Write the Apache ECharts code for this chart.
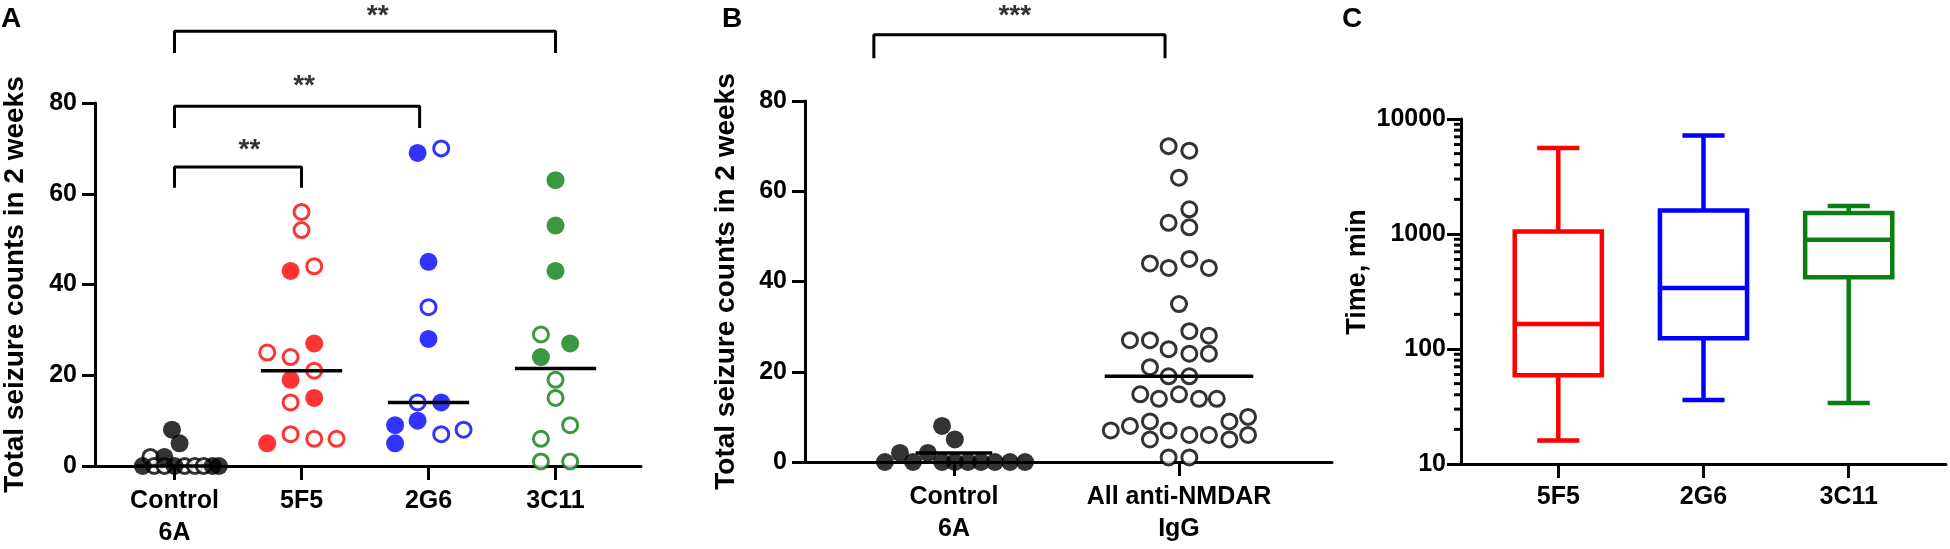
<!DOCTYPE html>
<html><head><meta charset="utf-8">
<script src="https://cdn.jsdelivr.net/npm/echarts@6/dist/echarts.min.js"></script>
<style>html,body{margin:0;padding:0;background:#fff}#c{width:1950px;height:549px}</style>
</head><body><div id="c"></div>
<script>
// ================= DATA =================
// Panel A categories and y ticks
const catsA = ['Control\n6A', '5F5', '2G6', '3C11'];
const yTicksA = [0, 20, 40, 60, 80];
// points: [horizontal jitter within the group, value]
const ctrlA_filled = [[-0.02, 8], [0.04, 5], [-0.08, 2], [-0.25, 0], [0.0, 0], [0.3, 0], [0.35, 0]];
const ctrlA_open = [[-0.19, 2], [-0.16, 0], [-0.08, 0], [0.08, 0], [0.16, 0], [0.23, 0]];
const f5f5_filled = [[-0.086, 43], [0.1, 27], [-0.086, 19], [0.1, 15], [-0.27, 5]];
const f5f5_open = [[0, 56], [0, 52], [0.1, 44], [-0.27, 25], [-0.086, 24], [0.1, 21], [-0.086, 14], [-0.086, 7], [0.1, 6], [0.276, 6]];
const g2g6_filled = [[-0.086, 69], [0, 45], [0, 28], [0.1, 14], [-0.263, 9], [-0.086, 10], [-0.263, 5]];
const g2g6_open = [[0.1, 70], [0, 35], [-0.086, 14], [0.276, 8], [0.1, 7]];
const c3c11_filled = [[0, 63], [0, 53], [0, 43], [0.115, 27], [-0.115, 24]];
const c3c11_open = [[-0.115, 29], [0, 19], [0, 15], [0.115, 9], [-0.115, 6], [-0.115, 1], [0.115, 1]];
const mediansA = [0, 21, 14, 21.5];
// significance brackets: [fromGroup, toGroup, top value, drop value, label, label x, label value]
const bracketsA = [
  [0, 3, 95.8, 91.0, '**', 1.6, 99.2],
  [0, 1.93, 79.3, 74.5, '**', 1.02, 83.6],
  [0, 1.0, 65.9, 61.3, '**', 0.59, 69.6]
];

// Panel B
const catsB = ['Control\n6A', 'All anti-NMDAR\nIgG'];
const ctrlB = [[-0.053, 8], [0.004, 5], [-0.24, 2], [-0.116, 2], [-0.307, 0], [-0.182, 0], [-0.053, 0], [0.004, 0], [0.062, 0], [0.12, 0], [0.182, 0], [0.249, 0], [0.316, 0]];
const antiB = [[-0.046, 70], [0.046, 69], [0, 63], [0.046, 56], [-0.046, 53], [0.046, 52], [-0.129, 44], [-0.046, 43], [0.046, 45], [0.133, 43],
  [0, 35], [0.046, 29], [-0.218, 27], [-0.129, 27], [0.133, 28], [-0.046, 25], [0.046, 24], [0.133, 24], [-0.129, 21], [-0.046, 19],
  [0.046, 19], [-0.172, 15], [-0.089, 14], [0, 15], [0.089, 14], [0.168, 14], [0.307, 10], [0.224, 9], [-0.129, 9], [-0.218, 8],
  [-0.303, 7], [-0.046, 7], [-0.129, 5], [0.046, 6], [0.133, 6], [0.224, 5], [0.307, 6], [-0.046, 1], [0.046, 1]];
const mediansB = [2, 19];
const bracketsB = [[-0.356, 0.938, 94.7, 89.5, '***', 0.27, 98.7]];

// Panel C (box plots: min, Q1, median, Q3, max; log axis)
const catsC = ['5F5', '2G6', '3C11'];
const boxC = [
  [16, 59, 165, 1050, 5600],
  [36, 124, 340, 1600, 7200],
  [34, 420, 890, 1520, 1750]
];
const minorTicksC = [20, 30, 40, 50, 60, 70, 80, 90, 200, 300, 400, 500, 600, 700, 800, 900, 2000, 3000, 4000, 5000, 6000, 7000, 8000, 9000];

// ================= STYLE / RENDER =================
const FONT = "'Liberation Sans', Arial, Helvetica, sans-serif";
const RED = '#ff0000', BLUE = '#0000ff', GREEN = '#0b7d12', BLACK = '#000000';
const colorsC = [RED, BLUE, GREEN];
const AX = {color: '#000', width: 3};
const labelStyle = {color: '#000', fontSize: 25, fontWeight: 'bold', fontFamily: FONT};

function pts(g, arr) { return arr.map(p => [g + p[0], p[1]]); }

function dots(xi, data, color, open) {
  return {
    type: 'scatter', xAxisIndex: xi, yAxisIndex: xi, data: data, clip: false, z: 3,
    symbol: 'circle', symbolSize: open ? 15 : 18,
    itemStyle: open ? {color: '#fff', borderColor: color, borderWidth: 3} : {color: color},
    emphasis: {disabled: true}, silent: true
  };
}

function medians(xi, vals, halfWidths) {
  return {
    type: 'custom', xAxisIndex: xi, yAxisIndex: xi, clip: false, z: 4, silent: true,
    data: vals.map((v, i) => [i, v]),
    renderItem: (params, api) => {
      const g = api.value(0), v = api.value(1), h = halfWidths[params.dataIndex];
      const a = api.coord([g - h, v]), b = api.coord([g + h, v]);
      return {type: 'line', shape: {x1: a[0], y1: a[1], x2: b[0], y2: b[1]}, style: {stroke: '#000', lineWidth: 3.5}};
    }
  };
}

function brackets(xi, list) {
  const out = [];
  list.forEach(b => {
    out.push({
      type: 'line', xAxisIndex: xi, yAxisIndex: xi, clip: false, symbol: 'none', z: 5, silent: true,
      data: [[b[0], b[3]], [b[0], b[2]], [b[1], b[2]], [b[1], b[3]]],
      lineStyle: {color: '#000', width: 3}
    });
  });
  out.push({
    type: 'scatter', xAxisIndex: xi, yAxisIndex: xi, clip: false, z: 6, silent: true,
    symbolSize: 1, itemStyle: {color: 'transparent'},
    data: list.map(b => ({value: [b[5], b[6]], label: {formatter: b[4]}})),
    label: {show: true, position: 'inside', color: '#000', fontSize: 28, fontWeight: 'bold', fontFamily: FONT}
  });
  return out;
}

function xAxisDef(grid, min, max, cats) {
  const vals = cats.map((c, i) => i);
  return {
    type: 'value', gridIndex: grid, min: min, max: max,
    axisLine: {show: true, onZero: false, lineStyle: AX},
    axisTick: {show: true, length: 14, lineStyle: AX, customValues: vals},
    axisLabel: Object.assign({}, labelStyle, {margin: 19, lineHeight: 32, customValues: vals,
      formatter: v => cats[Math.round(v)]}),
    splitLine: {show: false}
  };
}

function yAxisDef(grid, name, gap) {
  return {
    type: 'value', gridIndex: grid, min: 0, max: 80, interval: 20,
    axisLine: {show: true, onZero: false, lineStyle: AX},
    axisTick: {show: true, length: 13, lineStyle: AX},
    axisLabel: Object.assign({}, labelStyle, {margin: 18}),
    splitLine: {show: false},
    name: name, nameLocation: 'middle', nameGap: gap,
    nameTextStyle: {color: '#000', fontSize: 28, fontWeight: 'bold', fontFamily: FONT}
  };
}

const chart = echarts.init(document.getElementById('c'));
const series = [];
// Panel A
series.push(dots(0, pts(0, ctrlA_open), BLACK, true), dots(0, pts(0, ctrlA_filled), BLACK, false));
series.push(dots(0, pts(1, f5f5_open), RED, true), dots(0, pts(1, f5f5_filled), RED, false));
series.push(dots(0, pts(2, g2g6_open), BLUE, true), dots(0, pts(2, g2g6_filled), BLUE, false));
series.push(dots(0, pts(3, c3c11_open), GREEN, true), dots(0, pts(3, c3c11_filled), GREEN, false));
series.push(medians(0, mediansA, [0.3, 0.32, 0.32, 0.32]));
series.push(...brackets(0, bracketsA));
// Panel B
series.push(dots(1, pts(0, ctrlB), BLACK, false), dots(1, pts(1, antiB), BLACK, true));
series.push(medians(1, mediansB, [0.17, 0.33]));
series.push(...brackets(1, bracketsB));
// Panel C box plots
series.push({
  type: 'custom', xAxisIndex: 2, yAxisIndex: 2, clip: false, z: 3, silent: true,
  data: boxC.map((r, i) => [i].concat(r)),
  encode: {x: 0, y: [1, 2, 3, 4, 5]},
  renderItem: (params, api) => {
    const g = api.value(0), mn = api.value(1), q1 = api.value(2), md = api.value(3), q3 = api.value(4), mx = api.value(5);
    const color = colorsC[params.dataIndex];
    const bw = 0.3, cw = 0.145;
    const st = {stroke: color, lineWidth: 4.5, fill: 'transparent'};
    const L = (x1, y1, x2, y2) => {
      const a = api.coord([x1, y1]), b = api.coord([x2, y2]);
      return {type: 'line', shape: {x1: a[0], y1: a[1], x2: b[0], y2: b[1]}, style: st};
    };
    const tl = api.coord([g - bw, q3]), br = api.coord([g + bw, q1]);
    return {type: 'group', children: [
      L(g, q3, g, mx), L(g - cw, mx, g + cw, mx),
      L(g, q1, g, mn), L(g - cw, mn, g + cw, mn),
      {type: 'rect', shape: {x: tl[0], y: tl[1], width: br[0] - tl[0], height: br[1] - tl[1]}, style: st},
      L(g - bw, md, g + bw, md)
    ]};
  }
});
// Panel C minor log ticks
series.push({
  type: 'custom', xAxisIndex: 2, yAxisIndex: 2, clip: false, z: 2, silent: true,
  data: minorTicksC.map(v => [-0.67, v]),
  renderItem: (params, api) => {
    const p = api.coord([api.value(0), api.value(1)]);
    return {type: 'line', shape: {x1: p[0] - 7, y1: p[1], x2: p[0], y2: p[1]}, style: {stroke: '#000', lineWidth: 3}};
  }
});

const option = {
  animation: false,
  backgroundColor: '#fff',
  grid: [
    {left: 92, top: 103, width: 549, height: 364},
    {left: 805, top: 101, width: 527, height: 361},
    {left: 1461, top: 119, width: 485, height: 345}
  ],
  xAxis: [
    xAxisDef(0, -0.626, 3.673, catsA),
    xAxisDef(1, -0.662, 1.68, catsB),
    xAxisDef(2, -0.67, 2.67, catsC)
  ],
  yAxis: [
    yAxisDef(0, 'Total seizure counts in 2 weeks', 66),
    yAxisDef(1, 'Total seizure counts in 2 weeks', 65),
    {
      type: 'log', logBase: 10, gridIndex: 2, min: 10, max: 10000,
      axisLine: {show: true, onZero: false, lineStyle: AX},
      axisTick: {show: true, length: 14, lineStyle: AX},
      axisLabel: Object.assign({}, labelStyle, {margin: 15, formatter: v => String(Math.round(v))}),
      splitLine: {show: false}, minorTick: {show: false}
    }
  ],
  graphic: [
    {type: 'text', x: 1, y: 5, style: {text: 'A', font: 'bold 28px ' + FONT, fill: '#000'}},
    {type: 'text', x: 722, y: 5, style: {text: 'B', font: 'bold 28px ' + FONT, fill: '#000'}},
    {type: 'text', x: 1342, y: 5, style: {text: 'C', font: 'bold 28px ' + FONT, fill: '#000'}},
    {type: 'text', x: 1358, y: 272, rotation: Math.PI / 2,
      style: {text: 'Time, min', font: 'bold 27px ' + FONT, fill: '#000', align: 'center', verticalAlign: 'middle', textAlign: 'center', textVerticalAlign: 'middle'}}
  ],
  series: series
};
option.xAxis[2].axisLabel.margin = 17;
chart.setOption(option);
</script>
</body></html>
